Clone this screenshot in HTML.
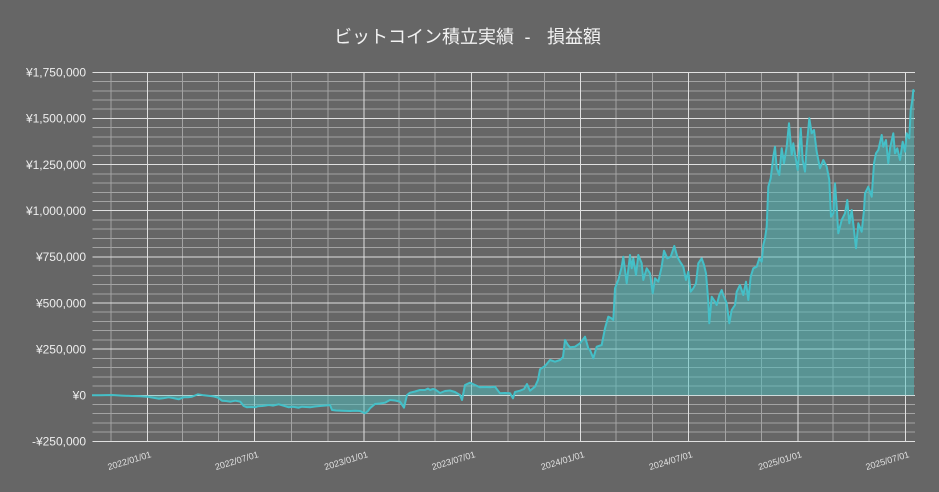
<!DOCTYPE html>
<html><head><meta charset="utf-8"><style>
html,body{margin:0;padding:0;background:#666666;}
svg{display:block;}
</style></head><body>
<svg width="939" height="492" viewBox="0 0 939 492" xmlns="http://www.w3.org/2000/svg">
<rect width="939" height="492" fill="#666666"/>
<!-- title -->
<g font-family="'Liberation Sans','Noto Sans CJK JP',sans-serif" font-size="18" fill="#f2f2f2">
<text x="334" y="43">ビットコイン積立実績</text>
<text x="527.5" y="43" text-anchor="middle">-</text>
<text x="547" y="43">損益額</text>
</g>
<!-- minor horizontal grid -->
<g stroke="#a3a3a3" stroke-width="1" shape-rendering="crispEdges">
<path d="M92.5 81.5H915M92.5 90.8H915M92.5 100H915M92.5 109.2H915
M92.5 127.7H915M92.5 136.9H915M92.5 146.1H915M92.5 155.4H915
M92.5 173.8H915M92.5 183H915M92.5 192.3H915M92.5 201.5H915
M92.5 220H915M92.5 229.2H915M92.5 238.4H915M92.5 247.6H915
M92.5 266.1H915M92.5 275.3H915M92.5 284.5H915M92.5 293.8H915
M92.5 312.2H915M92.5 321.5H915M92.5 330.7H915M92.5 339.9H915
M92.5 358.4H915M92.5 367.6H915M92.5 376.8H915M92.5 386.1H915
M92.5 404.5H915M92.5 413.7H915M92.5 423H915M92.5 432.2H915"/>
<path d="M111.1 72.3V442M182.3 72.3V442M218.5 72.3V442M291.5 72.3V442M327.8 72.3V442M399 72.3V442M435.2 72.3V442M508.2 72.3V442M544.4 72.3V442M616.2 72.3V442M652.5 72.3V442M725.5 72.3V442M761.7 72.3V442M832.9 72.3V442M869.1 72.3V442"/>
</g>
<!-- major grid -->
<g stroke="#e0e0e0" stroke-width="1" shape-rendering="crispEdges">
<path d="M92.5 72.3H915M92.5 118.4H915M92.5 164.6H915M92.5 210.7H915M92.5 256.9H915M92.5 303H915M92.5 349.1H915M92.5 395.3H915M92.5 441.4H915"/>
<path d="M147.3 72.3V442M254.7 72.3V442M364 72.3V442M471.4 72.3V442M580.6 72.3V442M688.7 72.3V442M797.9 72.3V442M905.3 72.3V442"/>
</g>
<!-- y labels -->
<g font-family="'Liberation Sans',sans-serif" font-size="12" fill="#eeeeee" text-anchor="end">
<text x="86" y="76.6">¥1,750,000</text>
<text x="86" y="122.7">¥1,500,000</text>
<text x="86" y="168.9">¥1,250,000</text>
<text x="86" y="215">¥1,000,000</text>
<text x="86" y="261.2">¥750,000</text>
<text x="86" y="307.3">¥500,000</text>
<text x="86" y="353.4">¥250,000</text>
<text x="86" y="399.6">¥0</text>
<text x="86" y="445.7">-¥250,000</text>
</g>
<!-- x labels -->
<g font-family="'Liberation Sans',sans-serif" font-size="9" fill="#e2e2e2" text-anchor="end">
<text transform="translate(151.8,457) rotate(-17)">2022/01/01</text>
<text transform="translate(259.2,457) rotate(-17)">2022/07/01</text>
<text transform="translate(368.5,457) rotate(-17)">2023/01/01</text>
<text transform="translate(475.9,457) rotate(-17)">2023/07/01</text>
<text transform="translate(585.1,457) rotate(-17)">2024/01/01</text>
<text transform="translate(693.2,457) rotate(-17)">2024/07/01</text>
<text transform="translate(802.4,457) rotate(-17)">2025/01/01</text>
<text transform="translate(909.8,457) rotate(-17)">2025/07/01</text>
</g>
<!-- data -->
<g>
<polygon fill="rgba(75,192,192,0.5)" points="92,395.3 92,395.3 100,395.2 112,395 122,395.6 132,396 140,396.3 147,396.7 152,397.5 158.7,398.7 163,398.3 168.7,397.3 173,398 178.7,399.3 183.7,397.3 188,397.2 192,396.7 195,395.5 198,394.3 201,394.8 203.7,395.3 207,395.6 210.3,396 214,396.5 218,397.7 222,400.7 226,401 230.3,401.7 235.3,400.7 240.3,401.7 243.7,406 247,407.3 251,407 255.3,407.3 258,406.2 262,406 265,405.6 268.7,405 273,405.6 278.7,404.3 283,405.5 288.7,407.3 293,406.8 298.7,407.7 302,406.7 306,407 310,407.3 315,406.5 320,406 326,405.5 330,405 332,410 336,410.5 342,410.7 350,411 355,410.8 360,411 365,413.3 368,411 370,408.3 375,404 380,403.5 385,402.7 390,400 395,400.5 400,401.7 404,407.7 407,395 410,392.7 415,391.5 420,390 425,390 428,388.5 430,390 433,389 435,389.5 438,391.5 440,393 445,391 450,390.5 455,392 460,395 462,400 465,385 470,382.7 475,385 480,387.3 485,387 490,387.3 495,386.7 500,393.3 505,393 510,393.3 513,398.3 515,392 520,390.7 524,389 527,384 530,390.7 535,386.7 538,380 540,369.3 545,366 550,360 555,361.7 560,360 563,357 565,340 568,345 570,347.3 575,346.7 580,343.3 585,336.7 588.3,348.3 590,350 593.3,358.3 596.7,346.7 601.7,345 605,328.3 608.3,316.7 611,318 613.3,320 615,288.3 618.3,280 621.7,266.7 623.3,256.7 625,270 626.7,283.3 630,255 631.7,268.3 633.3,258.3 636,275 638.3,255 641.7,263.3 643.3,280 646.7,268.3 650,273.3 652.7,293.3 655,278.3 658.3,281.7 661.7,266.7 664,250.7 667.3,258.3 670.7,256.7 674.3,246 677.3,256.7 680,261.7 683.3,266.7 686,280 688.3,271.7 690.7,291.7 693.3,288.3 696,283.3 698.3,263.3 701.7,258.3 704,265 706,273.3 708.3,301.7 709.3,323.3 711.7,296.7 715,301.7 716.7,305 719.3,295 721.7,290 723.3,295 726.7,303.3 729.3,323.3 731.7,310 735,305 736.7,291.7 740,285 743.3,295 746,281.7 748.3,300 750.7,276.7 753.3,268.3 756.7,266.7 759.3,258.3 761.7,261.7 763.3,245 765,238.3 766.7,226.7 768.3,186.7 770.7,178.3 773.3,156.7 775,146.7 776.7,168.3 779.3,175 781.7,148.3 784,163.3 786.7,146.7 789,123.3 791.7,155 793.3,143.3 796,160 797.7,170 799.3,150 800.7,128.3 802.7,160 805,171.7 806.7,146.7 809.3,118.3 811.7,133.3 814,130 816.7,151.7 820,168.3 823.3,160 826.7,166.7 829.3,180 831,216.7 833.3,213.3 835,183.3 836.7,206.7 838.3,233.3 841.7,220 845,213.3 847.3,200 849.3,223.3 851.7,210 854,230 856,248.3 858.3,223.3 861.7,231.7 864,210 865,193.3 868.3,186.7 871.7,196.7 874,163.3 876,153.3 878.3,150 881.7,135 883.3,146.7 886,140 888.3,163.3 890,148.3 893.3,133.3 895,153.3 897.3,148.3 900,160 902.7,141.7 905,151.7 906.7,133.3 909.3,138.3 910.7,110 912.3,100 913.3,90 914,92 914,395.3"/>
<polyline fill="none" stroke="#45bfc7" stroke-width="2" stroke-linejoin="round" points="92,395.3 100,395.2 112,395 122,395.6 132,396 140,396.3 147,396.7 152,397.5 158.7,398.7 163,398.3 168.7,397.3 173,398 178.7,399.3 183.7,397.3 188,397.2 192,396.7 195,395.5 198,394.3 201,394.8 203.7,395.3 207,395.6 210.3,396 214,396.5 218,397.7 222,400.7 226,401 230.3,401.7 235.3,400.7 240.3,401.7 243.7,406 247,407.3 251,407 255.3,407.3 258,406.2 262,406 265,405.6 268.7,405 273,405.6 278.7,404.3 283,405.5 288.7,407.3 293,406.8 298.7,407.7 302,406.7 306,407 310,407.3 315,406.5 320,406 326,405.5 330,405 332,410 336,410.5 342,410.7 350,411 355,410.8 360,411 365,413.3 368,411 370,408.3 375,404 380,403.5 385,402.7 390,400 395,400.5 400,401.7 404,407.7 407,395 410,392.7 415,391.5 420,390 425,390 428,388.5 430,390 433,389 435,389.5 438,391.5 440,393 445,391 450,390.5 455,392 460,395 462,400 465,385 470,382.7 475,385 480,387.3 485,387 490,387.3 495,386.7 500,393.3 505,393 510,393.3 513,398.3 515,392 520,390.7 524,389 527,384 530,390.7 535,386.7 538,380 540,369.3 545,366 550,360 555,361.7 560,360 563,357 565,340 568,345 570,347.3 575,346.7 580,343.3 585,336.7 588.3,348.3 590,350 593.3,358.3 596.7,346.7 601.7,345 605,328.3 608.3,316.7 611,318 613.3,320 615,288.3 618.3,280 621.7,266.7 623.3,256.7 625,270 626.7,283.3 630,255 631.7,268.3 633.3,258.3 636,275 638.3,255 641.7,263.3 643.3,280 646.7,268.3 650,273.3 652.7,293.3 655,278.3 658.3,281.7 661.7,266.7 664,250.7 667.3,258.3 670.7,256.7 674.3,246 677.3,256.7 680,261.7 683.3,266.7 686,280 688.3,271.7 690.7,291.7 693.3,288.3 696,283.3 698.3,263.3 701.7,258.3 704,265 706,273.3 708.3,301.7 709.3,323.3 711.7,296.7 715,301.7 716.7,305 719.3,295 721.7,290 723.3,295 726.7,303.3 729.3,323.3 731.7,310 735,305 736.7,291.7 740,285 743.3,295 746,281.7 748.3,300 750.7,276.7 753.3,268.3 756.7,266.7 759.3,258.3 761.7,261.7 763.3,245 765,238.3 766.7,226.7 768.3,186.7 770.7,178.3 773.3,156.7 775,146.7 776.7,168.3 779.3,175 781.7,148.3 784,163.3 786.7,146.7 789,123.3 791.7,155 793.3,143.3 796,160 797.7,170 799.3,150 800.7,128.3 802.7,160 805,171.7 806.7,146.7 809.3,118.3 811.7,133.3 814,130 816.7,151.7 820,168.3 823.3,160 826.7,166.7 829.3,180 831,216.7 833.3,213.3 835,183.3 836.7,206.7 838.3,233.3 841.7,220 845,213.3 847.3,200 849.3,223.3 851.7,210 854,230 856,248.3 858.3,223.3 861.7,231.7 864,210 865,193.3 868.3,186.7 871.7,196.7 874,163.3 876,153.3 878.3,150 881.7,135 883.3,146.7 886,140 888.3,163.3 890,148.3 893.3,133.3 895,153.3 897.3,148.3 900,160 902.7,141.7 905,151.7 906.7,133.3 909.3,138.3 910.7,110 912.3,100 913.3,90 914,92"/>
</g>
</svg>
</body></html>
